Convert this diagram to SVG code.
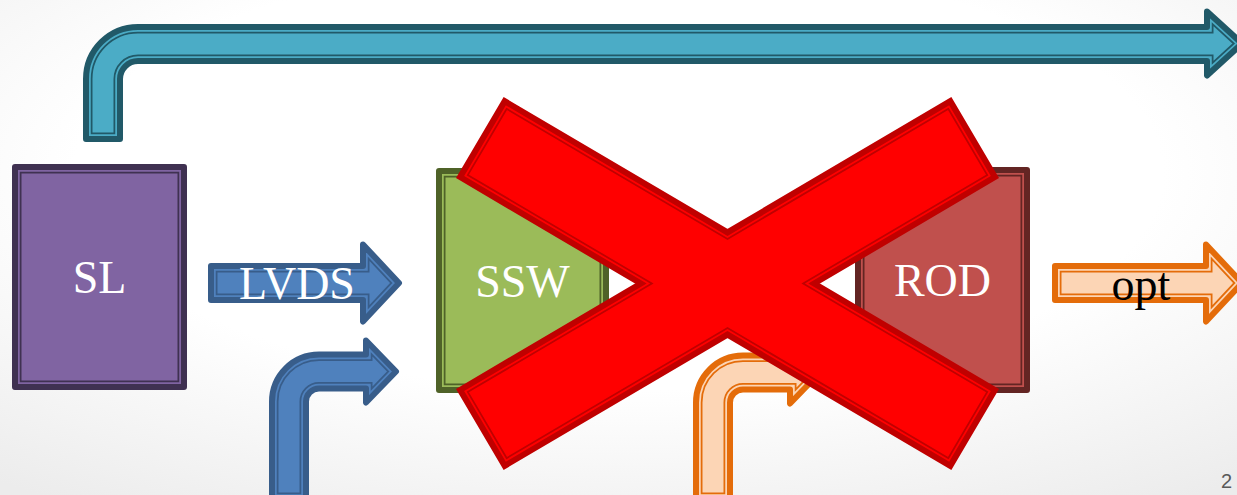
<svg xmlns="http://www.w3.org/2000/svg" width="1237" height="495" viewBox="0 0 1237 495">
<style>
.lbl{font-family:"Liberation Serif","Times New Roman",serif;font-size:46px;text-anchor:middle}
.w{fill:#ffffff}
.k{fill:#000000}
.o{fill:none;stroke-width:6;stroke-linejoin:round}
.om{fill:none;stroke-width:6;stroke-linejoin:miter;stroke-miterlimit:10}
.b1{fill:none;stroke-width:13;stroke-linejoin:miter;stroke-miterlimit:10}
.b2{fill:none;stroke-width:9.5;stroke-linejoin:miter;stroke-miterlimit:10}
.pg{font-family:"Liberation Sans",Arial,sans-serif;font-size:20px;fill:#595959}
</style>
<defs>
<radialGradient id="bg" cx="50%" cy="35%" r="80%">
<stop offset="0.55" stop-color="#ffffff"/>
<stop offset="1" stop-color="#ececec"/>
</radialGradient>
<path id="p-teal" d="M86,139 L86,79 A52,52 0 0 1 138,27 L1207,27 L1207,11.5 L1242,43.5 L1207,75.5 L1207,61 L138,61 A18,18 0 0 0 120,79 L120,139 Z"/>
<path id="p-sl" d="M15,167 H184 V387 H15 Z"/>
<path id="p-lvds" d="M211,266 L363,266 L363,244.5 L399,283 L363,321.5 L363,300 L211,300 Z"/>
<path id="p-blue" d="M272,499 L272,401.5 A47,47 0 0 1 319,354.5 L366,354.5 L366,340.5 L396,371.5 L366,402.5 L366,388.5 L319,388.5 A13,13 0 0 0 306,401.5 L306,499 Z"/>
<path id="p-ssw" d="M439,171 H606 V390 H439 Z"/>
<path id="p-rod" d="M858,170 H1027 V390 H858 Z"/>
<path id="p-or" d="M696,499 L696,402.5 A47,47 0 0 1 743,355.5 L790,355.5 L790,341.5 L820,372.5 L790,403.5 L790,389.5 L743,389.5 A13,13 0 0 0 730,402.5 L730,499 Z"/>
<path id="p-opt" d="M1055,266 L1206,266 L1206,244.5 L1242,283 L1206,321.5 L1206,300 L1055,300 Z"/>
<path id="p-x" d="M504.7,101.2 L727.5,232.4 L950.3,101.2 L994.9,177 L814.2,283.5 L994.9,390 L950.3,465.8 L727.5,334.6 L504.7,465.8 L460.1,390 L640.8,283.5 L460.1,177 Z"/>
<clipPath id="c-teal"><use href="#p-teal"/></clipPath>
<clipPath id="c-sl"><use href="#p-sl"/></clipPath>
<clipPath id="c-lvds"><use href="#p-lvds"/></clipPath>
<clipPath id="c-blue"><use href="#p-blue"/></clipPath>
<clipPath id="c-ssw"><use href="#p-ssw"/></clipPath>
<clipPath id="c-rod"><use href="#p-rod"/></clipPath>
<clipPath id="c-or"><use href="#p-or"/></clipPath>
<clipPath id="c-opt"><use href="#p-opt"/></clipPath>
<clipPath id="c-x"><use href="#p-x"/></clipPath>
</defs>
<rect x="0" y="0" width="1237" height="495" fill="url(#bg)"/>
<text class="pg" x="1221" y="488">2</text>

<g id="connectors">
<g id="arrow-top">
<use href="#p-teal" fill="#4bacc6"/>
<g clip-path="url(#c-teal)"><use href="#p-teal" class="b1" stroke="#215968"/><use href="#p-teal" class="b2" stroke="#4bacc6"/></g>
<use href="#p-teal" class="o" stroke="#215968"/>
</g>
<g id="arrow-lvds">
<use href="#p-lvds" fill="#4f81bd"/>
<g clip-path="url(#c-lvds)"><use href="#p-lvds" class="b1" stroke="#385d8a"/><use href="#p-lvds" class="b2" stroke="#4f81bd"/></g>
<use href="#p-lvds" class="o" stroke="#385d8a"/>
<text class="lbl w" x="297" y="299">LVDS</text>
</g>
<g id="arrow-blue-bent">
<use href="#p-blue" fill="#4f81bd"/>
<g clip-path="url(#c-blue)"><use href="#p-blue" class="b1" stroke="#385d8a"/><use href="#p-blue" class="b2" stroke="#4f81bd"/></g>
<use href="#p-blue" class="o" stroke="#385d8a"/>
</g>
<g id="arrow-orange-bent">
<use href="#p-or" fill="#fcd5b5"/>
<g clip-path="url(#c-or)"><use href="#p-or" class="b1" stroke="#e46c0a"/><use href="#p-or" class="b2" stroke="#fcd5b5"/></g>
<use href="#p-or" class="o" stroke="#e46c0a"/>
</g>
<g id="arrow-opt">
<use href="#p-opt" fill="#fcd5b5"/>
<g clip-path="url(#c-opt)"><use href="#p-opt" class="b1" stroke="#e46c0a"/><use href="#p-opt" class="b2" stroke="#fcd5b5"/></g>
<use href="#p-opt" class="o" stroke="#e46c0a"/>
<text class="lbl k" x="1141" y="300">opt</text>
</g>
</g>

<g id="node-SL">
<use href="#p-sl" fill="#8064a2"/>
<g clip-path="url(#c-sl)"><use href="#p-sl" class="b1" stroke="#3f3151"/><use href="#p-sl" class="b2" stroke="#8064a2"/></g>
<use href="#p-sl" class="o" stroke="#3f3151"/>
<text class="lbl w" x="99.5" y="293">SL</text>
</g>

<g id="node-SSW">
<use href="#p-ssw" fill="#9bbb59"/>
<g clip-path="url(#c-ssw)"><use href="#p-ssw" class="b1" stroke="#4f6228"/><use href="#p-ssw" class="b2" stroke="#9bbb59"/></g>
<use href="#p-ssw" class="o" stroke="#4f6228"/>
<text class="lbl w" x="522.5" y="297">SSW</text>
</g>

<g id="node-ROD">
<use href="#p-rod" fill="#c0504d"/>
<g clip-path="url(#c-rod)"><use href="#p-rod" class="b1" stroke="#632523"/><use href="#p-rod" class="b2" stroke="#c0504d"/></g>
<use href="#p-rod" class="o" stroke="#632523"/>
<text class="lbl w" x="942.5" y="296">ROD</text>
</g>

<g id="cross">
<use href="#p-x" fill="#ff0000"/>
<g clip-path="url(#c-x)"><use href="#p-x" class="b1" stroke="#c00000"/><use href="#p-x" class="b2" stroke="#ff0000"/></g>
<use href="#p-x" class="om" stroke="#c00000"/>
</g>
</svg>
